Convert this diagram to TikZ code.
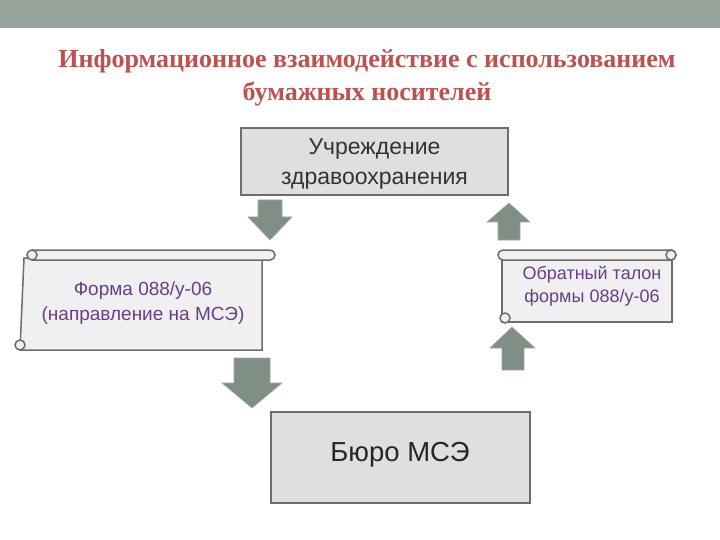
\documentclass[tikz,border=0pt]{standalone}
\usepackage{fontspec}
\setmainfont{Liberation Sans}
\newfontfamily\titlefont{Liberation Serif}
\definecolor{barc}{HTML}{95A39A}
\definecolor{titc}{HTML}{C0504D}
\definecolor{purp}{HTML}{6A3D8A}
\definecolor{edge}{HTML}{6D6D6D}
\definecolor{scf}{HTML}{F0F0F0}
\definecolor{arrf}{HTML}{7F8F86}
\begin{document}
\begin{tikzpicture}[x=1pt,y=-1pt,
  box/.style={draw=edge,line width=1.5pt,fill=gray!25},
  sc/.style={draw=edge,line width=1.5pt,fill=scf},
  arr/.style={fill=arrf,draw=gray!70,line width=0.6pt},
  txt/.style={text=purp,align=center}]
\useasboundingbox (0,0) rectangle (720,540);
\fill[white] (0,0) rectangle (720,540);
\fill[barc] (0,0) rectangle (720,28);
\node[font=\titlefont\bfseries\fontsize{26}{33}\selectfont,text=titc,align=center] (title) at (367,78)
 {Информационное взаимодействие  с использованием\\бумажных носителей};
% box 1
\draw[box] (241,128) rectangle (508,195);
\node[font=\fontsize{23}{30}\selectfont,text=black!80,align=center] (b1) at (374.5,164) {Учреждение\\здравоохранения};
% arrows
\draw[arr] (258,200) -- (282,200) -- (282,217) -- (292,217) -- (270,240) -- (248,217) -- (258,217) -- cycle;
\draw[arr] (498,240) -- (520,240) -- (520,222) -- (530,222) -- (509,203) -- (487,222) -- (498,222) -- cycle;
\draw[arr] (234,358) -- (270,358) -- (270,383) -- (282,383) -- (252,408) -- (222,383) -- (234,383) -- cycle;
\draw[arr] (502,370) -- (524,370) -- (524,348) -- (535,348) -- (512,327) -- (490,348) -- (502,348) -- cycle;
% left scroll
\draw[sc] (24,258) -- (262,258) -- (262,350) -- (20,350) -- (24,258) -- cycle;
\draw[sc,rounded corners=5pt] (28,250) rectangle (275,260);
\draw[sc] (32,255) circle (5);
\draw[sc] (20,345) circle (5);
\node[txt,font=\fontsize{19}{25}\selectfont] (f1) at (143,303) {Форма 088/у-06\\(направление на МСЭ)};
% right scroll
\draw[sc] (502,258) -- (672,258) -- (672,322) -- (502,322) -- cycle;
\draw[sc,rounded corners=5pt] (498,250) rectangle (676,260);
\draw[sc] (671,255) circle (5);
\draw[sc] (505,318) circle (5);
\node[txt,font=\fontsize{18}{23}\selectfont] (f2) at (592,286) {Обратный талон\\формы 088/у-06};
% box 2
\draw[box] (271,412) rectangle (530,503);
\node[font=\fontsize{27.5}{30}\selectfont,text=black!85] (b2) at (400,455) {Бюро МСЭ};
\end{tikzpicture}
\end{document}
